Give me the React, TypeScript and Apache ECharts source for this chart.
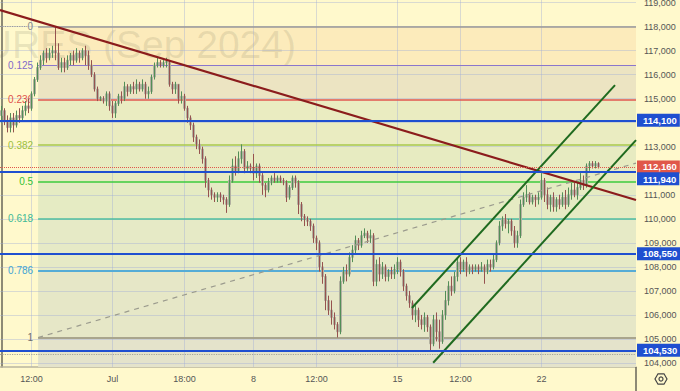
import React, { useEffect, useRef } from "react";
import * as echarts from "echarts";

// ---------------- data ----------------
// candles: [open, close, low, high] in thousands of points
const priceUnit = 1000;
const candleOCLH: number[][] = [
  [114.3, 114.5, 114.0, 114.7], [114.5, 114.1, 113.9, 114.6], [114.1, 113.8, 113.6, 114.3], [113.8, 114.2, 113.6, 114.4],
  [114.2, 113.9, 113.6, 114.4], [113.9, 114.3, 113.8, 114.5], [114.3, 114.2, 114.0, 114.6], [114.2, 114.5, 114.1, 114.7],
  [114.5, 114.7, 114.3, 114.9], [114.7, 114.6, 114.4, 115.0], [114.6, 115.2, 114.5, 115.3], [115.2, 115.8, 115.1, 115.9],
  [115.8, 116.3, 115.7, 116.5], [116.3, 116.6, 116.2, 116.8], [116.6, 116.9, 116.4, 117.0], [116.9, 116.7, 116.5, 117.1],
  [116.7, 116.9, 116.6, 117.1], [116.9, 117.0, 116.7, 117.2], [117.0, 116.9, 116.6, 118.0], [116.9, 116.3, 116.2, 117.3],
  [116.3, 116.5, 116.1, 116.7], [116.5, 116.3, 116.1, 116.7], [116.3, 116.6, 116.2, 116.8], [116.6, 116.8, 116.4, 116.9],
  [116.8, 116.6, 116.4, 117.0], [116.6, 116.9, 116.5, 117.1], [116.9, 116.7, 116.5, 117.0], [116.7, 117.0, 116.6, 117.1],
  [117.0, 116.8, 116.4, 117.2], [116.8, 116.4, 116.2, 117.0], [116.4, 116.0, 115.9, 116.6], [116.0, 115.4, 115.3, 116.1],
  [115.4, 115.0, 114.9, 115.5], [115.0, 115.05, 114.9, 115.1], [115.0, 114.9, 114.8, 115.1], [114.9, 115.2, 114.7, 115.3],
  [115.2, 114.7, 114.5, 115.3], [114.7, 114.4, 114.2, 114.9], [114.4, 114.8, 114.2, 114.9], [114.8, 115.1, 114.7, 115.2],
  [115.1, 115.0, 114.8, 115.3], [115.0, 115.5, 114.9, 115.7], [115.5, 115.3, 115.1, 115.6], [115.3, 115.5, 115.2, 115.6],
  [115.5, 115.4, 115.2, 115.7], [115.4, 115.6, 115.2, 115.8], [115.6, 115.4, 115.3, 115.7], [115.4, 115.6, 115.3, 115.8],
  [115.6, 115.2, 115.0, 115.7], [115.2, 115.3, 115.0, 115.5], [115.3, 115.9, 115.2, 116.0], [115.9, 116.4, 115.8, 116.5],
  [116.4, 116.5, 116.3, 116.7], [116.5, 116.4, 116.3, 116.6], [116.4, 116.5, 116.3, 116.6], [116.5, 116.55, 116.3, 116.7],
  [116.5, 115.6, 115.5, 116.6], [115.6, 115.4, 115.2, 115.7], [115.4, 115.6, 115.2, 115.7], [115.6, 115.0, 114.8, 115.6],
  [115.0, 115.1, 114.8, 115.3], [115.1, 114.6, 114.5, 115.2], [114.6, 114.2, 114.0, 114.7], [114.2, 113.9, 113.7, 114.3],
  [113.9, 113.4, 113.2, 114.0], [113.4, 113.1, 112.9, 113.5], [113.1, 112.9, 112.7, 113.3], [112.9, 112.5, 112.3, 113.0],
  [112.5, 111.6, 111.3, 112.6], [111.6, 111.2, 110.9, 111.7], [111.2, 111.0, 110.8, 111.3], [111.0, 110.9, 110.7, 111.1],
  [110.9, 111.0, 110.7, 111.1], [111.0, 110.9, 110.7, 111.1], [110.9, 110.8, 110.6, 111.0], [110.8, 110.6, 110.25, 110.9],
  [110.6, 111.6, 110.5, 111.8], [111.6, 112.2, 111.5, 112.5], [112.2, 112.0, 111.8, 112.6], [112.0, 112.5, 111.9, 112.8],
  [112.5, 112.8, 112.3, 113.1], [112.8, 112.1, 111.9, 112.9], [112.1, 112.2, 112.0, 112.4], [112.2, 112.1, 111.9, 112.3],
  [112.1, 111.9, 111.6, 112.7], [111.9, 112.2, 111.7, 112.3], [112.2, 111.8, 111.5, 112.3], [111.8, 111.4, 111.0, 111.9],
  [111.4, 111.2, 110.9, 111.5], [111.2, 111.5, 111.1, 111.7], [111.5, 111.7, 111.4, 111.8], [111.7, 111.6, 111.5, 111.9],
  [111.6, 111.7, 111.5, 111.8], [111.7, 111.6, 111.5, 111.8], [111.6, 111.5, 111.4, 111.7], [111.5, 110.9, 110.7, 111.6],
  [110.9, 111.3, 110.8, 111.4], [111.3, 111.7, 111.2, 111.8], [111.7, 111.5, 111.3, 111.8], [111.5, 110.6, 110.2, 111.6],
  [110.6, 110.1, 109.9, 110.7], [110.1, 110.0, 109.7, 110.2], [110.0, 109.9, 109.7, 110.1], [109.9, 109.7, 109.5, 110.0],
  [109.7, 109.2, 109.0, 109.8], [109.2, 109.0, 108.7, 109.3], [109.0, 108.0, 107.8, 109.1], [108.0, 107.6, 107.3, 108.2],
  [107.6, 106.6, 106.2, 107.7], [106.6, 106.2, 106.0, 106.8], [106.2, 105.9, 105.6, 106.6], [105.9, 105.6, 105.4, 106.1],
  [105.6, 105.3, 105.06, 105.7], [105.3, 107.4, 105.2, 107.6], [107.4, 107.8, 107.3, 108.0], [107.8, 107.7, 107.4, 108.1],
  [107.7, 108.4, 107.6, 108.6], [108.4, 108.7, 108.2, 108.9], [108.7, 109.1, 108.5, 109.3], [109.1, 108.9, 108.7, 109.2],
  [108.9, 109.3, 108.8, 109.5], [109.3, 109.4, 109.2, 109.6], [109.4, 109.2, 109.0, 109.5], [109.2, 109.3, 109.0, 109.55],
  [109.3, 107.4, 107.2, 109.4], [107.4, 108.1, 107.2, 108.3], [108.1, 107.7, 107.4, 108.4], [107.7, 108.0, 107.5, 108.2],
  [108.0, 107.6, 107.4, 108.1], [107.6, 107.8, 107.4, 107.9], [107.8, 107.7, 107.5, 108.0], [107.7, 107.9, 107.5, 108.1],
  [107.9, 108.2, 107.7, 108.4], [108.2, 107.8, 107.6, 108.3], [107.8, 107.2, 107.0, 107.9], [107.2, 106.8, 106.6, 107.3],
  [106.8, 106.5, 106.3, 107.0], [106.5, 106.0, 105.8, 106.6], [106.0, 106.2, 105.7, 106.4], [106.2, 105.8, 105.5, 106.3],
  [105.8, 105.6, 105.4, 106.0], [105.6, 105.9, 105.3, 106.1], [105.9, 105.5, 105.3, 106.0], [105.5, 104.8, 104.53, 105.6],
  [104.8, 105.8, 104.7, 106.0], [105.8, 105.3, 104.9, 106.1], [105.3, 104.9, 104.6, 105.8], [104.9, 106.0, 104.8, 106.2],
  [106.0, 106.6, 105.8, 107.0], [106.6, 107.2, 106.4, 107.4], [107.2, 107.0, 106.8, 107.6], [107.0, 107.6, 106.9, 107.8],
  [107.6, 108.2, 107.4, 108.4], [108.2, 107.9, 107.7, 108.4], [107.9, 108.2, 107.8, 108.3], [108.2, 107.8, 107.6, 108.4],
  [107.8, 108.0, 107.7, 108.1], [108.0, 107.9, 107.7, 108.1], [107.9, 108.0, 107.8, 108.1], [108.0, 107.9, 107.7, 108.1],
  [107.9, 108.0, 107.8, 108.2], [108.0, 107.8, 107.3, 108.1], [107.8, 108.1, 107.7, 108.3], [108.1, 108.0, 107.8, 108.3],
  [108.0, 108.3, 107.9, 108.5], [108.3, 109.0, 108.2, 109.1], [109.0, 109.7, 108.9, 109.9], [109.7, 110.0, 109.5, 110.1],
  [110.0, 109.8, 109.6, 110.2], [109.8, 109.9, 109.4, 110.0], [109.9, 109.5, 109.3, 110.0], [109.5, 109.0, 108.8, 109.7],
  [109.0, 109.3, 108.8, 109.5], [109.3, 110.6, 109.2, 110.8], [110.6, 110.9, 110.5, 111.1], [110.9, 111.0, 110.7, 111.4],
  [111.0, 110.7, 110.6, 111.1], [110.7, 110.9, 110.6, 111.0], [110.9, 110.8, 110.5, 111.0], [110.8, 110.9, 110.6, 111.1],
  [110.9, 111.6, 110.8, 111.9], [111.6, 111.0, 110.7, 111.7], [111.0, 110.6, 110.4, 111.3], [110.6, 110.9, 110.3, 111.0],
  [110.9, 110.5, 110.3, 111.1], [110.5, 110.8, 110.3, 110.9], [110.8, 110.6, 110.4, 111.0], [110.6, 110.9, 110.5, 111.1],
  [110.9, 110.6, 110.4, 111.2], [110.6, 111.0, 110.5, 111.3], [111.0, 111.2, 110.8, 111.5], [111.2, 111.0, 110.9, 111.5],
  [111.0, 111.3, 110.8, 111.5], [111.3, 111.6, 111.2, 111.9], [111.6, 111.4, 111.2, 111.8], [111.4, 112.2, 111.3, 112.3],
  [112.2, 112.3, 112.0, 112.4], [112.3, 112.2, 112.1, 112.4], [112.2, 112.3, 112.1, 112.4], [112.3, 112.16, 112.1, 112.35],
];

const slotCount = 212; // candle slots incl. empty space on the right
const xLabelSlots = [10, 37, 61, 84, 105, 132, 153, 180];
const xLabelTexts = ["12:00", "Jul", "18:00", "8", "12:00", "15", "12:00", "22"];
const yTickValues = [104000, 105000, 106000, 107000, 108000, 109000, 110000, 111000, 112000, 113000, 114000, 115000, 116000, 117000, 118000, 119000];
const yMinValue = 103834;
const yMaxValue = 119106;

const fibRatios = [0, 0.125, 0.236, 0.382, 0.5, 0.618, 0.786, 1];
const fibLabelTexts = ["0", "0.125", "0.236", "0.382", "0.5", "0.618", "0.786", "1"];
const fibHighPrice = 118010;
const fibLowPrice = 105060;
const fibStartSlot = 12.2;

const keyLevels = [114100, 111940, 108550, 104530];
const lastPrice = 112160;
const lowDottedLevel = 104370;

const resistanceLine = [[-0.5, 118685], [211.5, 110781]];
const channelUpperLine = [[136.8, 106290], [204.5, 115565]];
const channelLowerLine = [[143.9, 104010], [211.5, 113277]];
const fibTrendLine = [[12.2, 105060], [211.5, 112320]];
const topDottedLine = [[-0.5, 118010], [8.5, 118010]];

const watermarkText = "TURES (Sep 2024)";

// ---------------- styles ----------------
const BG = "#fff9cc";
const GRID_COLOR = "rgba(160,172,215,0.40)";
const FONT = "'Liberation Sans', Arial, sans-serif";
const FIB_LINE_COLORS = ["#9a9a9a", "#8b76cc", "#e0574f", "#a9c94c", "#3ccb3c", "#4dbd9f", "#56acd6", "#a9a58d"];
const FIB_LINE_WIDTHS = [1.5, 1.2, 1.5, 1.5, 1.5, 1.5, 2, 2];
const FIB_LABEL_COLORS = ["#8a8a8a", "#7f6bc9", "#e0504a", "#9cbf3f", "#35c235", "#40b996", "#3ea4d4", "#6f6f6f"];
const BAND_COLORS = ["#fcebbb", "#ece4c2", "#eaecc1", "#e7ebc1", "#e5ebc3", "#e6eac6", "#e6e7c7"];
const BAND_BELOW = "#e4e3cb";
const UP = "#3a8544";
const DOWN = "#8f3a3a";
const CANDLE_GRAY = "#b2b1a0";
const KEY_BLUE = "#1f4fd0";
const PRICE_RED = "#e0574a";

const fmt = (v: number) => Math.round(v).toLocaleString("en-US");

function buildOption() {
  const candles = candleOCLH.map((c) => c.map((v) => Math.round(v * priceUnit)));
  const slots = Array.from({ length: slotCount }, (_, i) => {
    const k = xLabelSlots.indexOf(i);
    return k >= 0 ? xLabelTexts[k] : "";
  });
  const fibPrices = fibRatios.map((r) => fibHighPrice - r * (fibHighPrice - fibLowPrice));
  const rightEdge = slotCount - 0.5;

  const bands: any[] = [];
  for (let i = 0; i < fibPrices.length - 1; i++) {
    bands.push([
      { xAxis: fibStartSlot, yAxis: fibPrices[i], itemStyle: { color: BAND_COLORS[i] } },
      { xAxis: rightEdge, yAxis: fibPrices[i + 1] },
    ]);
  }
  bands.push([
    { xAxis: fibStartSlot, yAxis: fibLowPrice, itemStyle: { color: BAND_BELOW } },
    { xAxis: rightEdge, yAxis: yMinValue },
  ]);

  const boxLabel = (color: string, extra: any = {}) => ({
    show: true,
    position: "end",
    distance: 1,
    formatter: (p: any) => fmt(p.value),
    color: "#ffffff",
    fontWeight: "bold",
    fontSize: 9.5,
    fontFamily: FONT,
    lineHeight: 10,
    backgroundColor: color,
    padding: [2, 3, 1, 6],
    ...extra,
  });

  return {
    animation: false,
    grid: { left: 0, right: 44, top: 0, bottom: 24, containLabel: false, outerBoundsMode: "none" },
    xAxis: [
      {
        type: "category",
        data: slots,
        boundaryGap: true,
        axisLine: { show: true, lineStyle: { color: "#b8b59f", width: 1.5 } },
        axisTick: { show: false },
        axisLabel: { interval: 0, color: "#555555", fontSize: 9, fontFamily: FONT, margin: 7 },
        splitLine: { show: false },
      },
      { type: "value", min: -0.5, max: rightEdge, show: false },
    ],
    yAxis: {
      type: "value",
      position: "right",
      min: yMinValue,
      max: yMaxValue,
      axisLine: { show: true, lineStyle: { color: "#67655a", width: 1.5 } },
      axisTick: { show: false, customValues: yTickValues },
      axisLabel: {
        customValues: yTickValues,
        formatter: (v: number) => fmt(v),
        color: "#555555",
        fontSize: 9,
        fontFamily: FONT,
        margin: 8,
      },
      splitLine: { show: false },
    },
    graphic: [
      {
        type: "text",
        x: 296,
        y: 44,
        z: 2,
        silent: true,
        style: {
          text: watermarkText,
          fontSize: 39,
          fontFamily: FONT,
          fill: "rgba(120,115,90,0.16)",
          align: "right",
          verticalAlign: "middle",
        },
      },
      { type: "line", z: 10, shape: { x1: 636, y1: 367, x2: 636, y2: 391 }, style: { stroke: "#67655a", lineWidth: 1.5 } },
      {
        type: "polygon",
        z: 10,
        shape: { points: [[667, 379], [664, 384.2], [658, 384.2], [655, 379], [658, 373.8], [664, 373.8]] },
        style: { fill: "none", stroke: "#444", lineWidth: 1.2 },
      },
      { type: "circle", z: 10, shape: { cx: 661, cy: 379, r: 2 }, style: { fill: "none", stroke: "#444", lineWidth: 1.2 } },
    ],
    series: [
      {
        name: "fib-bands",
        type: "line",
        xAxisIndex: 1,
        data: [],
        z: 0,
        silent: true,
        markArea: { silent: true, z: 1, label: { show: false }, data: bands },
      },
      {
        name: "grid-lines",
        type: "line",
        xAxisIndex: 1,
        data: [],
        z: 2,
        silent: true,
        markLine: {
          silent: true,
          z: 2,
          symbol: ["none", "none"],
          label: { show: false },
          lineStyle: { color: GRID_COLOR, width: 1, type: "solid" },
          data: [
            ...yTickValues.map((v) => ({ yAxis: v })),
            ...xLabelSlots.map((s) => ({ xAxis: s })),
          ],
        },
      },
      {
        name: "fib-levels",
        type: "line",
        xAxisIndex: 1,
        data: [],
        z: 3,
        silent: true,
        markLine: {
          silent: true,
          z: 3,
          symbol: ["none", "none"],
          data: fibPrices.map((p, i) => [
            {
              coord: [fibStartSlot, p],
              lineStyle: { color: FIB_LINE_COLORS[i], width: FIB_LINE_WIDTHS[i], type: "solid" },
              label: {
                show: true,
                position: "start",
                distance: 5,
                formatter: fibLabelTexts[i],
                color: FIB_LABEL_COLORS[i],
                fontSize: 10,
                fontFamily: FONT,
              },
            },
            { coord: [rightEdge, p] },
          ]),
        },
      },
      {
        name: "dotted-levels",
        type: "line",
        xAxisIndex: 1,
        data: [],
        z: 3,
        silent: true,
        markLine: {
          silent: true,
          z: 3,
          symbol: ["none", "none"],
          label: { show: false },
          data: [
            { yAxis: lowDottedLevel, lineStyle: { color: "#a5a59a", type: "dotted", width: 1.2 } },
            [
              { coord: topDottedLine[0], lineStyle: { color: "#9a9a9a", type: "dotted", width: 1.2 } },
              { coord: topDottedLine[1] },
            ],
          ],
        },
      },
      {
        name: "candles-body",
        type: "candlestick",
        xAxisIndex: 0,
        data: candles,
        z: 4,
        barWidth: 3,
        silent: true,
        itemStyle: { color: CANDLE_GRAY, color0: CANDLE_GRAY, borderColor: CANDLE_GRAY, borderColor0: CANDLE_GRAY, borderWidth: 1 },
      },
      {
        name: "candles-core",
        type: "candlestick",
        xAxisIndex: 0,
        data: candles,
        z: 5,
        barWidth: 0.6,
        silent: true,
        itemStyle: { color: UP, color0: DOWN, borderColor: UP, borderColor0: DOWN, borderWidth: 0.8 },
      },
      {
        name: "fib-trend",
        type: "line",
        xAxisIndex: 1,
        data: fibTrendLine,
        z: 6,
        symbol: "none",
        silent: true,
        lineStyle: { color: "#9b9b8e", width: 1.2, type: [5, 5] },
      },
      {
        name: "resistance",
        type: "line",
        xAxisIndex: 1,
        data: resistanceLine,
        z: 7,
        symbol: "none",
        silent: true,
        lineStyle: { color: "#8b1c1c", width: 2.2 },
      },
      {
        name: "channel-upper",
        type: "line",
        xAxisIndex: 1,
        data: channelUpperLine,
        z: 7,
        symbol: "none",
        silent: true,
        lineStyle: { color: "#1f6a1f", width: 2 },
      },
      {
        name: "channel-lower",
        type: "line",
        xAxisIndex: 1,
        data: channelLowerLine,
        z: 7,
        symbol: "none",
        silent: true,
        lineStyle: { color: "#1f6a1f", width: 2 },
      },
      {
        name: "last-price",
        type: "line",
        xAxisIndex: 1,
        data: [],
        z: 8,
        clip: false,
        silent: true,
        markLine: {
          silent: true,
          z: 8,
          symbol: ["none", "none"],
          data: [
            {
              yAxis: lastPrice,
              lineStyle: { color: PRICE_RED, type: "dotted", width: 1 },
              label: boxLabel(PRICE_RED),
            },
          ],
        },
      },
      {
        name: "key-levels",
        type: "line",
        xAxisIndex: 1,
        data: [],
        z: 9,
        clip: false,
        silent: true,
        markLine: {
          silent: true,
          z: 9,
          symbol: ["none", "none"],
          data: keyLevels.map((v) => ({
            yAxis: v,
            lineStyle: { color: KEY_BLUE, width: 2, type: "solid" },
            label: boxLabel(KEY_BLUE, v === 111940 ? { verticalAlign: "top" } : {}),
          })),
        },
      },
    ],
  };
}

export default function App() {
  const ref = useRef<HTMLDivElement>(null);
  useEffect(() => {
    if (!ref.current) return;
    const chart = echarts.init(ref.current, null, { renderer: "svg" });
    chart.setOption(buildOption() as any);
    return () => chart.dispose();
  }, []);
  return (
    <div
      ref={ref}
      style={{ position: "absolute", left: 0, top: 0, width: 680, height: 391, background: BG }}
    />
  );
}
